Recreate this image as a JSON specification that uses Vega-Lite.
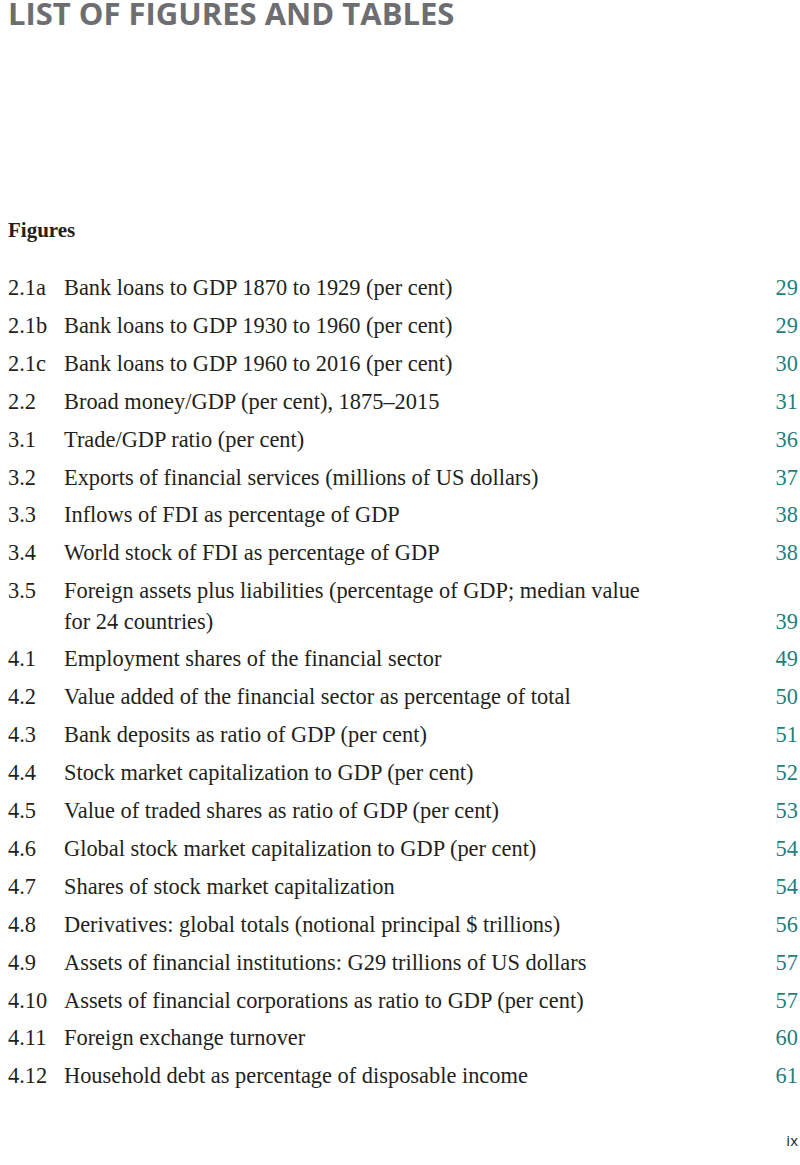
{
  "$schema": "https://vega.github.io/schema/vega-lite/v6.json",
  "width": 800,
  "height": 1165,
  "padding": 0,
  "autosize": {"type": "fit", "contains": "padding"},
  "background": "#ffffff",
  "config": {"view": {"stroke": null}},
  "data": {"values": [
    {"kind": "title", "tab": 0, "line": -6.12, "text": "LIST OF FIGURES AND TABLES"},
    {"kind": "heading", "tab": 0, "line": -0.53, "text": "Figures"},
    {"kind": "entry", "tab": 0, "line": 1, "text": "2.1a"},
    {"kind": "entry", "tab": 1, "line": 1, "text": "Bank loans to GDP 1870 to 1929 (per cent)"},
    {"kind": "page", "tab": 2, "line": 1, "text": "29"},
    {"kind": "entry", "tab": 0, "line": 2, "text": "2.1b"},
    {"kind": "entry", "tab": 1, "line": 2, "text": "Bank loans to GDP 1930 to 1960 (per cent)"},
    {"kind": "page", "tab": 2, "line": 2, "text": "29"},
    {"kind": "entry", "tab": 0, "line": 3, "text": "2.1c"},
    {"kind": "entry", "tab": 1, "line": 3, "text": "Bank loans to GDP 1960 to 2016 (per cent)"},
    {"kind": "page", "tab": 2, "line": 3, "text": "30"},
    {"kind": "entry", "tab": 0, "line": 4, "text": "2.2"},
    {"kind": "entry", "tab": 1, "line": 4, "text": "Broad money/GDP (per cent), 1875–2015"},
    {"kind": "page", "tab": 2, "line": 4, "text": "31"},
    {"kind": "entry", "tab": 0, "line": 5, "text": "3.1"},
    {"kind": "entry", "tab": 1, "line": 5, "text": "Trade/GDP ratio (per cent)"},
    {"kind": "page", "tab": 2, "line": 5, "text": "36"},
    {"kind": "entry", "tab": 0, "line": 6, "text": "3.2"},
    {"kind": "entry", "tab": 1, "line": 6, "text": "Exports of financial services (millions of US dollars)"},
    {"kind": "page", "tab": 2, "line": 6, "text": "37"},
    {"kind": "entry", "tab": 0, "line": 7, "text": "3.3"},
    {"kind": "entry", "tab": 1, "line": 7, "text": "Inflows of FDI as percentage of GDP"},
    {"kind": "page", "tab": 2, "line": 7, "text": "38"},
    {"kind": "entry", "tab": 0, "line": 8, "text": "3.4"},
    {"kind": "entry", "tab": 1, "line": 8, "text": "World stock of FDI as percentage of GDP"},
    {"kind": "page", "tab": 2, "line": 8, "text": "38"},
    {"kind": "entry", "tab": 0, "line": 9, "text": "3.5"},
    {"kind": "entry", "tab": 1, "line": 9, "text": "Foreign assets plus liabilities (percentage of GDP; median value"},
    {"kind": "entry", "tab": 1, "line": 9.8, "text": "for 24 countries)"},
    {"kind": "page", "tab": 2, "line": 9.8, "text": "39"},
    {"kind": "entry", "tab": 0, "line": 10.8, "text": "4.1"},
    {"kind": "entry", "tab": 1, "line": 10.8, "text": "Employment shares of the financial sector"},
    {"kind": "page", "tab": 2, "line": 10.8, "text": "49"},
    {"kind": "entry", "tab": 0, "line": 11.8, "text": "4.2"},
    {"kind": "entry", "tab": 1, "line": 11.8, "text": "Value added of the financial sector as percentage of total"},
    {"kind": "page", "tab": 2, "line": 11.8, "text": "50"},
    {"kind": "entry", "tab": 0, "line": 12.8, "text": "4.3"},
    {"kind": "entry", "tab": 1, "line": 12.8, "text": "Bank deposits as ratio of GDP (per cent)"},
    {"kind": "page", "tab": 2, "line": 12.8, "text": "51"},
    {"kind": "entry", "tab": 0, "line": 13.8, "text": "4.4"},
    {"kind": "entry", "tab": 1, "line": 13.8, "text": "Stock market capitalization to GDP (per cent)"},
    {"kind": "page", "tab": 2, "line": 13.8, "text": "52"},
    {"kind": "entry", "tab": 0, "line": 14.8, "text": "4.5"},
    {"kind": "entry", "tab": 1, "line": 14.8, "text": "Value of traded shares as ratio of GDP (per cent)"},
    {"kind": "page", "tab": 2, "line": 14.8, "text": "53"},
    {"kind": "entry", "tab": 0, "line": 15.8, "text": "4.6"},
    {"kind": "entry", "tab": 1, "line": 15.8, "text": "Global stock market capitalization to GDP (per cent)"},
    {"kind": "page", "tab": 2, "line": 15.8, "text": "54"},
    {"kind": "entry", "tab": 0, "line": 16.8, "text": "4.7"},
    {"kind": "entry", "tab": 1, "line": 16.8, "text": "Shares of stock market capitalization"},
    {"kind": "page", "tab": 2, "line": 16.8, "text": "54"},
    {"kind": "entry", "tab": 0, "line": 17.8, "text": "4.8"},
    {"kind": "entry", "tab": 1, "line": 17.8, "text": "Derivatives: global totals (notional principal $ trillions)"},
    {"kind": "page", "tab": 2, "line": 17.8, "text": "56"},
    {"kind": "entry", "tab": 0, "line": 18.8, "text": "4.9"},
    {"kind": "entry", "tab": 1, "line": 18.8, "text": "Assets of financial institutions: G29 trillions of US dollars"},
    {"kind": "page", "tab": 2, "line": 18.8, "text": "57"},
    {"kind": "entry", "tab": 0, "line": 19.8, "text": "4.10"},
    {"kind": "entry", "tab": 1, "line": 19.8, "text": "Assets of financial corporations as ratio to GDP (per cent)"},
    {"kind": "page", "tab": 2, "line": 19.8, "text": "57"},
    {"kind": "entry", "tab": 0, "line": 20.8, "text": "4.11"},
    {"kind": "entry", "tab": 1, "line": 20.8, "text": "Foreign exchange turnover"},
    {"kind": "page", "tab": 2, "line": 20.8, "text": "60"},
    {"kind": "entry", "tab": 0, "line": 21.8, "text": "4.12"},
    {"kind": "entry", "tab": 1, "line": 21.8, "text": "Household debt as percentage of disposable income"},
    {"kind": "page", "tab": 2, "line": 21.8, "text": "61"},
    {"kind": "folio", "tab": 2, "line": 23.45, "text": "ix"}
  ]},
  "encoding": {
    "x": {"field": "tab", "type": "quantitative", "axis": null,
          "scale": {"domain": [0, 1, 2], "range": [8, 64, 798], "nice": false, "zero": false}},
    "y": {"field": "line", "type": "quantitative", "axis": null,
          "scale": {"domain": [23.955, -6.784], "nice": false, "zero": false}},
    "text": {"field": "text"}
  },
  "layer": [
    {"transform": [{"filter": "datum.kind === 'title'"}],
     "mark": {"type": "text", "align": "left", "baseline": "alphabetic", "font": "Open Sans", "fontWeight": "bold", "fontSize": 31, "fill": "#6d6e71"}},
    {"transform": [{"filter": "datum.kind === 'heading'"}],
     "mark": {"type": "text", "align": "left", "baseline": "alphabetic", "font": "Liberation Serif", "fontWeight": "bold", "fontSize": 21, "fill": "#231f20"}},
    {"transform": [{"filter": "datum.kind === 'entry'"}],
     "mark": {"type": "text", "align": "left", "baseline": "alphabetic", "font": "Liberation Serif", "fontSize": 22.4, "fill": "#231f20"}},
    {"transform": [{"filter": "datum.kind === 'page'"}],
     "mark": {"type": "text", "align": "right", "baseline": "alphabetic", "font": "Liberation Serif", "fontSize": 22.4, "fill": "#1f7f7c"}},
    {"transform": [{"filter": "datum.kind === 'folio'"}],
     "mark": {"type": "text", "align": "right", "baseline": "alphabetic", "font": "Open Sans", "fontSize": 15, "fill": "#231f20"}}
  ]
}
